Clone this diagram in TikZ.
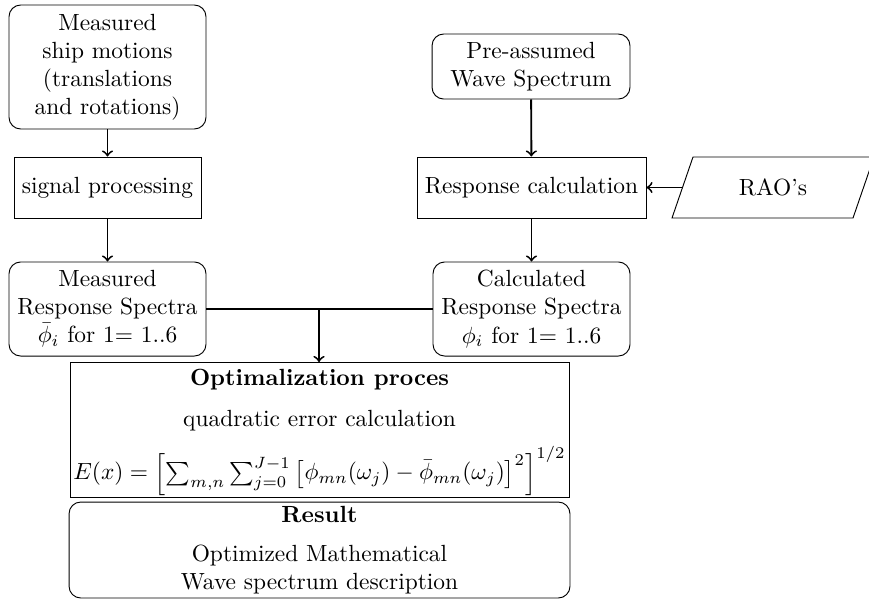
\documentclass[tikz,border=0pt]{standalone}
\begin{document}
\begin{tikzpicture}[x=0.4274pt,y=-0.4274pt,
  box/.style={draw,line width=0.4pt,align=center,inner sep=0pt},
  rbox/.style={box,rounded corners=5pt},
  flow/.style={->,line width=0.8pt}]
\useasboundingbox (0,0) rectangle (869,608);

% left column: measurements
\node[rbox,minimum width=84.2pt,minimum height=53pt] (ship) at (107.5,67)
  {Measured\\ship motions\\(translations\\and rotations)};
\node[box,minimum width=79.9pt,minimum height=26.1pt] (signal) at (107.5,187.5)
  {signal processing};
\node[rbox,minimum width=84.2pt,minimum height=40.2pt] (meas) at (107.5,309)
  {Measured\\Response Spectra\\$\bar{\phi}_i$ for 1= 1..6};

% right column: calculation
\node[rbox,minimum width=84.6pt,minimum height=27.8pt] (wave) at (531,66.5)
  {Pre-assumed\\Wave Spectrum};
\node[box,minimum width=97.9pt,minimum height=26.1pt] (resp) at (531.5,187.5)
  {Response calculation};
% RAO input as a parallelogram
\draw[line width=0.4pt] (672,218) -- (693,157) -- (874,157) -- (853,218) -- cycle;
\node (rao) at (773,187.5) {RAO's};
\coordinate (raoin) at (682.5,187.5);
\node[rbox,minimum width=84.2pt,minimum height=40.2pt] (calc) at (531.5,309)
  {Calculated\\Response Spectra\\$\phi_i$ for 1= 1..6};

% optimisation and result
\node[box,minimum width=213.3pt,minimum height=57.7pt] (opt) at (319.5,430)
  {\rule{0pt}{9pt}\textbf{Optimalization proces}\\[5.5pt]
   quadratic error calculation\\[5.5pt]
   $E(x)=\left[\sum_{m,n}\sum_{j=0}^{J-1}\left[\phi_{mn}(\omega_j)-\bar{\phi}_{mn}(\omega_j)\right]^2\right]^{1/2}$};
\node[rbox,minimum width=214.1pt,minimum height=41pt] (res) at (319.5,550)
  {\textbf{Result}\\[4.5pt]Optimized Mathematical\\Wave spectrum description};

% connectors
\draw[flow] (ship) -- (signal);
\draw[flow] (signal) -- (meas);
\draw[flow] (wave) -- (resp);
\draw[flow] (raoin) -- (resp.east);
\draw[flow] (resp) -- (calc);
\draw[line width=0.8pt] (meas.east) -- (calc.west);
\coordinate (join) at (319,309);
\draw[flow] (join) -- (join |- opt.north);
\end{tikzpicture}
\end{document}
